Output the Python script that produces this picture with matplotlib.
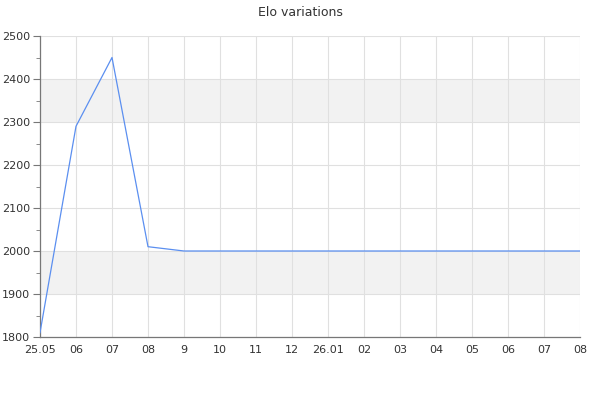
import matplotlib
matplotlib.use('Agg')
import matplotlib.pyplot as plt
from matplotlib.ticker import MultipleLocator

# Data
labels = ["25.05", "06", "07", "08", "9", "10", "11", "12", "26.01",
          "02", "03", "04", "05", "06", "07", "08"]
elo = [1810, 2290, 2450, 2010, 2000, 2000, 2000, 2000, 2000,
       2000, 2000, 2000, 2000, 2000, 2000, 2000]
bands = [(1900, 2000), (2300, 2400)]

plt.rcParams['font.family'] = 'DejaVu Sans'
fig = plt.figure(figsize=(6, 4), dpi=100, facecolor='w')
ax = fig.add_axes([40/600, 63/400, 540/600, 301/400])

x = list(range(len(labels)))
for lo, hi in bands:
    ax.axhspan(lo, hi, color='#f2f2f2', zorder=0, lw=0)
ax.plot(x, elo, color='#5b8ff0', lw=0.9, zorder=3)

ax.set_xlim(0, len(labels) - 1)
ax.set_ylim(1800, 2500)
ax.set_xticks(x)
ax.set_xticklabels(labels)
ax.yaxis.set_major_locator(MultipleLocator(100))
ax.yaxis.set_minor_locator(MultipleLocator(50))

ax.grid(True, which='major', color='#e0e0e0', lw=0.8, zorder=1)
ax.set_axisbelow(True)

for s in ['top', 'right']:
    ax.spines[s].set_visible(False)
for s in ['left', 'bottom']:
    ax.spines[s].set_color('#777777')
    ax.spines[s].set_linewidth(0.9)

ax.tick_params(axis='y', which='major', length=5, color='#777777', labelsize=8, labelcolor='#333333', pad=2)
ax.tick_params(axis='y', which='minor', length=3, color='#777777')
ax.tick_params(axis='x', length=0, labelsize=8, labelcolor='#333333', pad=6)

fig.text(0.5, 1 - 12/400, "Elo variations", ha='center', va='center', fontsize=9, color='#333333')

fig.savefig('out.png', dpi=100)
